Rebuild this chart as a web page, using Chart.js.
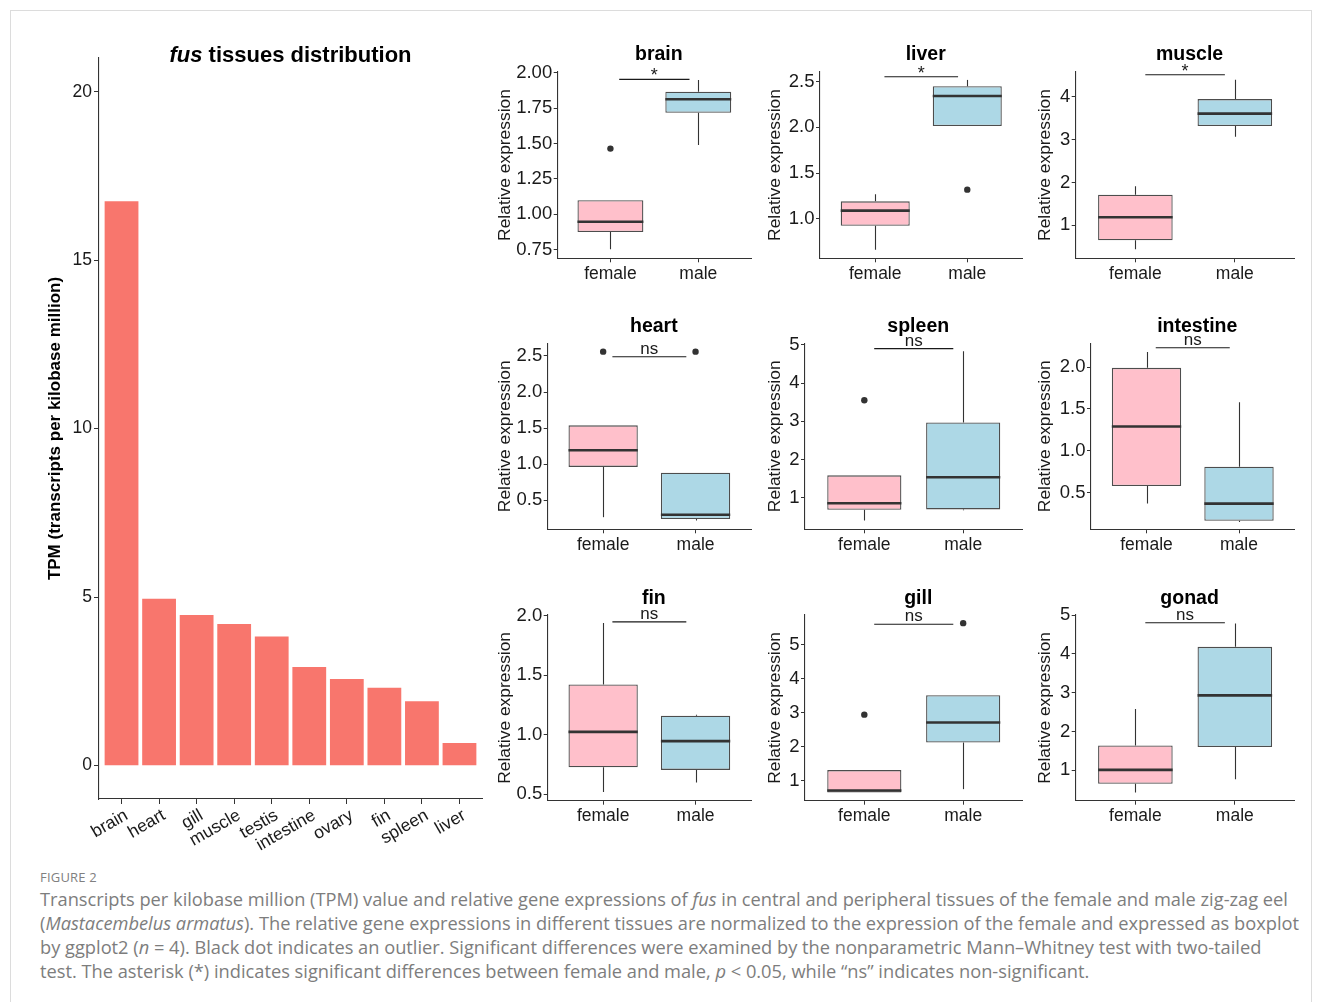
<!DOCTYPE html>
<html>
<head>
<meta charset="utf-8">
<script src="https://cdn.jsdelivr.net/npm/chart.js@4.4.1/dist/chart.umd.min.js"></script>
<style>
html,body{margin:0;padding:0;background:#fff;}
body{width:1322px;height:1002px;overflow:hidden;position:relative;}
#frame{position:absolute;left:10px;top:10px;width:1302px;height:1010px;border:1px solid #dcdcdc;box-sizing:border-box;}
canvas{position:absolute;}
#figlab{position:absolute;left:40px;top:869px;font-family:"Open Sans",Lato,sans-serif;font-size:13px;line-height:16px;color:#808080;letter-spacing:0.2px;}
#cap{position:absolute;left:40px;top:887px;font-family:"Open Sans",Lato,sans-serif;font-size:17px;line-height:24px;color:#7d7d7d;white-space:nowrap;}
#cap span{display:inline-block;}
</style>
</head>
<body>
<div id="frame"></div>
<div id="figlab">FIGURE 2</div>
<div id="cap"><span id="l1">Transcripts per kilobase million (TPM) value and relative gene expressions of <i>fus</i> in central and peripheral tissues of the female and male zig-zag eel</span><br><span>(<i>Mastacembelus armatus</i>). The relative gene expressions in different tissues are normalized to the expression of the female and expressed as boxplot</span><br><span>by ggplot2 (<i>n</i> = 4). Black dot indicates an outlier. Significant differences were examined by the nonparametric Mann–Whitney test with two-tailed</span><br><span>test. The asterisk (*) indicates significant differences between female and male, <i>p</i> &lt; 0.05, while “ns” indicates non-significant.</span></div>
<script>
// ---------------- DATA ----------------
const tissues = ['brain','heart','gill','muscle','testis','intestine','ovary','fin','spleen','liver'];
const tpm = [16.75, 4.95, 4.47, 4.20, 3.83, 2.93, 2.57, 2.31, 1.91, 0.67];
const tpmTicks = [0, 5, 10, 15, 20];
const tpmRange = [-0.99, 21.0];

const groups = ['female', 'male'];
const panelNames = ['brain','liver','muscle','heart','spleen','intestine','fin','gill','gonad'];

// [lower whisker, Q1, median, Q3, upper whisker] for female, male
const brainStats     = [[0.753, 0.875, 0.948, 1.100, 1.100], [1.490, 1.719, 1.814, 1.868, 1.950]];
const liverStats     = [[0.660, 0.923, 1.088, 1.190, 1.267], [2.014, 2.014, 2.343, 2.450, 2.520]];
const muscleStats    = [[0.440, 0.650, 1.190, 1.715, 1.910], [3.070, 3.320, 3.610, 3.950, 4.400]];
const heartStats     = [[0.266, 0.963, 1.194, 1.539, 1.539], [0.220, 0.240, 0.300, 0.882, 0.882]];
const spleenStats    = [[0.410, 0.690, 0.860, 1.590, 1.590], [0.680, 0.700, 1.540, 2.970, 4.830]];
const intestineStats = [[0.370, 0.580, 1.290, 1.990, 2.180], [0.150, 0.165, 0.370, 0.810, 1.580]];
const finStats       = [[0.520, 0.727, 1.025, 1.423, 1.940], [0.600, 0.705, 0.947, 1.160, 1.170]];
const gillStats      = [[0.650, 0.650, 0.710, 1.310, 1.310], [0.750, 2.120, 2.710, 3.510, 3.510]];
const gonadStats     = [[0.430, 0.650, 1.010, 1.640, 2.580], [0.770, 1.600, 2.930, 4.180, 4.780]];

// outliers for female, male
const brainOut     = [[1.465], []];
const liverOut     = [[], [1.318]];
const muscleOut    = [[], []];
const heartOut     = [[2.56], [2.56]];
const spleenOut    = [[3.55], []];
const intestineOut = [[], []];
const finOut       = [[], []];
const gillOut      = [[2.94], [5.63]];
const gonadOut     = [[], []];

// y tick labels per panel
const brainTicks     = [0.75, 1.00, 1.25, 1.50, 1.75, 2.00];
const liverTicks     = [1.0, 1.5, 2.0, 2.5];
const muscleTicks    = [1, 2, 3, 4];
const heartTicks     = [0.5, 1.0, 1.5, 2.0, 2.5];
const spleenTicks    = [1, 2, 3, 4, 5];
const intestineTicks = [0.5, 1.0, 1.5, 2.0];
const finTicks       = [0.5, 1.0, 1.5, 2.0];
const gillTicks      = [1, 2, 3, 4, 5];
const gonadTicks     = [1, 2, 3, 4, 5];
const tickDecimals   = [2, 1, 0, 1, 0, 1, 1, 0, 0];

const yRanges = [[0.689, 2.009], [0.566, 2.61], [0.229, 4.59], [0.098, 2.676], [0.18, 5.04],
                 [0.063, 2.283], [0.446, 2.008], [0.41, 5.87], [0.216, 5.0]];
const sigLabels  = ['*', '*', '*', 'ns', 'ns', 'ns', 'ns', 'ns', 'ns'];
const sigHeights = [1.955, 2.555, 4.52, 2.49, 4.9, 2.23, 1.95, 5.6, 4.8];

const allStats = [brainStats, liverStats, muscleStats, heartStats, spleenStats, intestineStats, finStats, gillStats, gonadStats];
const allOut = [brainOut, liverOut, muscleOut, heartOut, spleenOut, intestineOut, finOut, gillOut, gonadOut];
const allTicks = [brainTicks, liverTicks, muscleTicks, heartTicks, spleenTicks, intestineTicks, finTicks, gillTicks, gonadTicks];

// ---------------- STYLE / LAYOUT ----------------
const FONT = '"Liberation Sans", Arial, sans-serif';
Chart.defaults.font.family = FONT;
Chart.defaults.color = '#1a1a1a';
Chart.defaults.animation = false;
const groupColors = ['#FFC0CB', '#ADD8E6'];
const barColor = '#F8766D';

// fit caption line width to the reference
(function () {
  const l1 = document.getElementById('l1');
  const w = l1.getBoundingClientRect().width;
  if (w > 0) document.getElementById('cap').style.fontSize = (17 * 1248 / w).toFixed(2) + 'px';
})();

function makeCanvas(x, y, w, h) {
  const c = document.createElement('canvas');
  c.width = w; c.height = h;
  c.style.left = x + 'px'; c.style.top = y + 'px';
  c.style.width = w + 'px'; c.style.height = h + 'px';
  document.body.appendChild(c);
  return c;
}

const axisGrid = {display: true, drawOnChartArea: false, drawTicks: true, tickLength: 4, color: '#333', lineWidth: 1, offset: false};
const axisBorder = {display: true, color: '#333', width: 1.1};

// ---------------- BAR CHART ----------------
const tpmTitle = {
  id: 'tpmTitle',
  afterDraw(chart) {
    const {ctx, chartArea} = chart;
    ctx.save();
    ctx.fillStyle = '#000';
    ctx.textBaseline = 'alphabetic';
    ctx.textAlign = 'left';
    const f1 = 'italic bold 22px ' + FONT, f2 = 'bold 22px ' + FONT;
    const t1 = 'fus', t2 = ' tissues distribution';
    ctx.font = f1; const w1 = ctx.measureText(t1).width;
    ctx.font = f2; const w2 = ctx.measureText(t2).width;
    const cx = (chartArea.left + chartArea.right) / 2;
    const x0 = cx - (w1 + w2) / 2;
    const yb = chartArea.top + 3.7;
    ctx.font = f1; ctx.fillText(t1, x0, yb);
    ctx.font = f2; ctx.fillText(t2, x0 + w1, yb);
    ctx.restore();
  }
};

(function () {
  const cx = 20, cy = 30, cw = 470, ch = 830;
  const L = 99, T = 58, R = 482, B = 799;
  const cv = makeCanvas(cx, cy, cw, ch);
  new Chart(cv, {
    type: 'bar',
    data: {datasets: [{
      data: tpm.map((v, i) => ({x: i, y: v})),
      backgroundColor: barColor, borderWidth: 0,
      barPercentage: 0.9, categoryPercentage: 1
    }]},
    options: {
      responsive: false, animation: false,
      layout: {padding: {left: 25, top: T - cy, right: cx + cw - R, bottom: 0}},
      plugins: {legend: {display: false}, tooltip: {enabled: false}},
      scales: {
        x: {
          type: 'linear', min: -0.6, max: tissues.length - 0.4, offset: false,
          afterBuildTicks: s => { s.ticks = tissues.map((t, i) => ({value: i})); },
          afterFit: s => { s.height = cy + ch - B; },
          ticks: {callback: v => tissues[v], minRotation: 30, maxRotation: 30, autoSkip: false,
                  font: {size: 17.5}, color: '#1a1a1a', padding: 1, labelOffset: 5},
          grid: Object.assign({}, axisGrid, {tickLength: 5}),
          border: axisBorder
        },
        y: {
          type: 'linear', min: tpmRange[0], max: tpmRange[1],
          afterBuildTicks: s => { s.ticks = tpmTicks.map(v => ({value: v})); },
          afterFit: s => { s.width = L - cx - 25; },
          ticks: {font: {size: 17.5}, color: '#1a1a1a', padding: 2},
          grid: Object.assign({}, axisGrid, {tickLength: 5}),
          border: axisBorder,
          title: {display: true, text: 'TPM (transcripts per kilobase million)',
                  font: {size: 17, weight: 'bold'}, color: '#000', padding: 0}
        }
      }
    },
    plugins: [tpmTitle]
  });
})();

// ---------------- BOX PLOTS ----------------
const boxPlugin = {
  id: 'boxExtras',
  beforeDatasetsDraw(chart, args, o) {
    const {ctx, scales: {x, y}} = chart;
    ctx.save();
    ctx.strokeStyle = '#333';
    ctx.lineWidth = 1.1;
    o.stats.forEach((s, i) => {
      const px = Math.round(x.getPixelForValue(i)) + 0.5;
      ctx.beginPath();
      ctx.moveTo(px, y.getPixelForValue(s[0])); ctx.lineTo(px, y.getPixelForValue(s[1]));
      ctx.moveTo(px, y.getPixelForValue(s[3])); ctx.lineTo(px, y.getPixelForValue(s[4]));
      ctx.stroke();
    });
    ctx.restore();
  },
  afterDatasetsDraw(chart, args, o) {
    const {ctx, scales: {x, y}, chartArea} = chart;
    const meta = chart.getDatasetMeta(0);
    ctx.save();
    // medians
    ctx.strokeStyle = '#333';
    ctx.lineWidth = 2.6;
    o.stats.forEach((s, i) => {
      const el = meta.data[i];
      const py = y.getPixelForValue(s[2]);
      ctx.beginPath();
      ctx.moveTo(el.x - el.width / 2, py);
      ctx.lineTo(el.x + el.width / 2, py);
      ctx.stroke();
    });
    // significance bar
    const sy = y.getPixelForValue(o.sigY);
    const x1 = x.getPixelForValue(0.1), x2 = x.getPixelForValue(0.9);
    ctx.lineWidth = 1.1;
    ctx.strokeStyle = '#1a1a1a';
    ctx.beginPath(); ctx.moveTo(x1, sy); ctx.lineTo(x2, sy); ctx.stroke();
    ctx.fillStyle = '#1a1a1a';
    ctx.textAlign = 'center';
    const mx = (x1 + x2) / 2;
    if (o.sig === '*') {
      ctx.font = '18px ' + FONT;
      ctx.textBaseline = 'alphabetic';
      const m = ctx.measureText('*');
      const mid = (m.actualBoundingBoxAscent - m.actualBoundingBoxDescent) / 2;
      ctx.fillText('*', mx, sy - 7.4 + mid);
    } else {
      ctx.font = '17px ' + FONT;
      ctx.textBaseline = 'alphabetic';
      ctx.fillText(o.sig, mx, sy - 2.7);
    }
    // panel title
    ctx.font = 'bold 19.5px ' + FONT;
    ctx.fillStyle = '#000';
    ctx.textBaseline = 'alphabetic';
    ctx.fillText(o.title, (chartArea.left + chartArea.right) / 2 + 4.5, chartArea.top - 11.5);
    ctx.restore();
  }
};

const cols = [{cx: 490, cw: 270, R: 751}, {cx: 760, cw: 270, R: 1022.5}, {cx: 1030, cw: 292, R: 1294.5}];
const rows = [{cy: 30, ch: 260, T: 71.7, B: 258.3}, {cy: 300, ch: 260, T: 343.3, B: 529.3}, {cy: 572, ch: 260, T: 615, B: 800.7}];
const lefts = [[557.7, 820, 1075.7], [547.7, 805, 1091], [547.7, 805, 1075.7]];

panelNames.forEach((name, k) => {
  const r = Math.floor(k / 3), c = k % 3;
  const {cx, cw, R} = cols[c];
  const {cy, ch, T, B} = rows[r];
  const L = lefts[r][c];
  const stats = allStats[k], outs = allOut[k], ticks = allTicks[k], dec = tickDecimals[k];
  const cv = makeCanvas(cx, cy, cw, ch);
  new Chart(cv, {
    type: 'bar',
    data: {datasets: [
      {type: 'bar', data: stats.map((s, i) => ({x: i, y: [s[1], s[3]]})),
       backgroundColor: groupColors, borderColor: '#4d4d4d', borderWidth: 1.3, borderSkipped: false,
       barPercentage: 0.75, categoryPercentage: 1, order: 1},
      {type: 'scatter', data: outs.flatMap((o, i) => o.map(v => ({x: i, y: v}))),
       pointRadius: 3.2, pointBackgroundColor: '#333', pointBorderWidth: 0, pointHoverRadius: 3.2, order: 0}
    ]},
    options: {
      responsive: false, animation: false,
      layout: {padding: {left: 5, top: T - cy, right: cx + cw - R, bottom: 0}},
      plugins: {legend: {display: false}, tooltip: {enabled: false},
                boxExtras: {stats: stats, sig: sigLabels[k], sigY: sigHeights[k], title: name}},
      scales: {
        x: {
          type: 'linear', min: -0.6, max: groups.length - 0.4, offset: false,
          afterBuildTicks: s => { s.ticks = groups.map((g, i) => ({value: i})); },
          afterFit: s => { s.height = cy + ch - B; },
          ticks: {callback: v => groups[v], maxRotation: 0, autoSkip: false,
                  font: {size: 17.5}, color: '#1a1a1a', padding: 1},
          grid: axisGrid, border: axisBorder
        },
        y: {
          type: 'linear', min: yRanges[k][0], max: yRanges[k][1],
          afterBuildTicks: s => { s.ticks = ticks.map(v => ({value: v})); },
          afterFit: s => { s.width = L - cx - 5; },
          ticks: {callback: v => Number(v).toFixed(dec), font: {size: 18.5}, color: '#1a1a1a', padding: 1.5},
          grid: axisGrid, border: axisBorder,
          title: {display: true, text: 'Relative expression', font: {size: 17.4}, color: '#1a1a1a', padding: 0}
        }
      }
    },
    plugins: [boxPlugin]
  });
});
</script>
</body>
</html>
